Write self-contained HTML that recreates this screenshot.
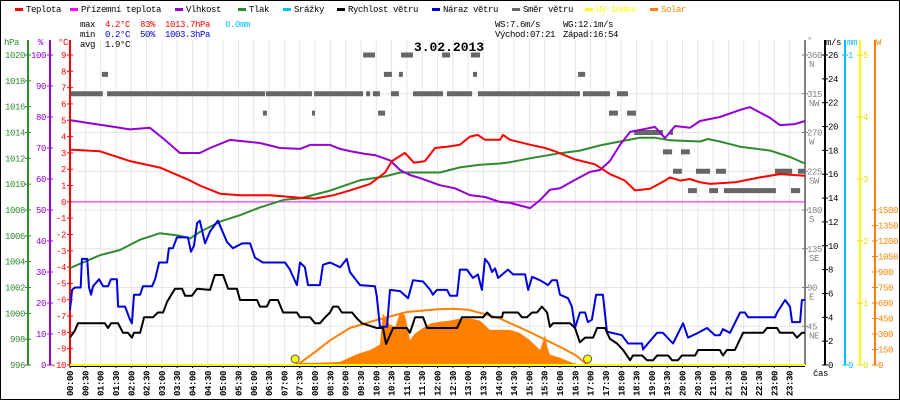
<!DOCTYPE html>
<html><head><meta charset="utf-8"><style>
html,body{margin:0;padding:0;background:#fff;}
svg{display:block;font-family:"Liberation Mono",monospace;font-size:9px;letter-spacing:-0.4px;}
</style></head><body>
<svg id="chart" width="900" height="400" viewBox="0 0 900 400" xmlns="http://www.w3.org/2000/svg">
<rect x="0.5" y="0.5" width="899" height="399" fill="#fff" stroke="#000"/>
<g id="grid"></g>
<g id="axes"></g>
<g id="series"></g>
<g id="legend"></g>
<g>
<text x="80" y="27">max</text>
<text x="105" y="27" fill="#f00">4.2°C</text>
<text x="140" y="27" fill="#f00">83%</text>
<text x="165" y="27" fill="#f00">1013.7hPa</text>
<text x="225" y="27" fill="#00bfff">0.0mm</text>
<text x="80" y="37">min</text>
<text x="105" y="37" fill="#0000dd">0.2°C</text>
<text x="140" y="37" fill="#0000dd">50%</text>
<text x="165" y="37" fill="#0000dd">1003.3hPa</text>
<text x="80" y="47">avg</text>
<text x="105" y="47">1.9°C</text>
<text x="495" y="27">WS:7.6m/s</text>
<text x="563" y="27">WG:12.1m/s</text>
<text x="495" y="37">Východ:07:21</text>
<text x="563" y="37">Západ:16:54</text>
<text x="449" y="51" text-anchor="middle" font-size="13" font-weight="bold" style="letter-spacing:0">3.02.2013</text>
</g>
</svg>
<script>
// ---- data ----
const tempT=[0,0.98,1.96,2.94,3.92,4.24,4.9,5.55,6.53,7.51,8.0,8.59,9.14,9.8,10.29,10.51,10.94,11.23,11.59,11.92,12.41,12.73,13.06,13.32,13.55,14.04,14.14,14.37,15.02,15.51,15.84,16.49,17.14,17.63,18.12,18.45,18.94,19.43,19.59,19.92,20.24,20.57,20.9,21.71,22.53,23.18,24];
const tempV=[3.2,3.1,2.5,2.1,1.3,1.0,0.5,0.4,0.4,0.25,0.2,0.4,0.7,1.1,1.8,2.5,3.0,2.4,2.5,3.3,3.4,3.5,4.0,4.1,3.8,3.8,4.1,3.8,3.5,3.3,3.1,2.6,2.3,1.7,1.3,0.7,0.8,1.3,1.5,1.3,1.4,1.2,1.1,1.2,1.5,1.7,1.6];
const humT=[0,0.65,1.31,1.96,2.61,3.1,3.59,4.24,4.57,5.22,6.2,6.86,7.51,7.84,8.49,8.82,9.14,9.63,9.96,10.45,10.78,11.1,11.43,12.08,12.57,13.06,13.55,14.04,14.37,15.02,15.35,15.67,16.0,16.49,16.98,17.31,17.63,17.96,18.29,18.61,19.1,19.43,19.76,20.24,20.57,21.22,21.88,22.2,22.86,23.18,23.67,24];
const humV=[79,78,77,76,76.5,72.6,68.4,68.4,70,72.6,71.6,70,69.7,71,71,69.7,69,68.1,67.7,66,62.9,61.3,60.3,58,57,54.8,54.2,52.6,52.3,50.6,53.2,56.5,57,59.7,62.3,62.9,65.8,71,75.2,75.8,76.8,73.2,77.1,76.5,78.7,80,82.3,83.2,79.7,77.4,77.7,78.7];
const presT=[0,0.98,1.63,2.29,2.94,3.59,3.92,4.24,4.9,5.55,6.2,7.0,7.51,8.49,9.47,10.29,10.78,11.43,12.08,12.73,13.39,14.04,14.37,15.02,16.0,16.65,17.31,17.96,18.61,19.1,19.59,20.57,20.83,21.22,21.88,22.86,23.51,24];
const presV=[1003.5,1004.5,1004.9,1005.7,1006.2,1006.0,1005.8,1006.3,1007.1,1007.6,1008.2,1008.8,1008.9,1009.5,1010.3,1010.6,1010.9,1010.9,1010.9,1011.3,1011.5,1011.6,1011.7,1012.0,1012.4,1012.6,1013.0,1013.3,1013.6,1013.6,1013.4,1013.3,1013.5,1013.3,1012.9,1012.6,1012.1,1011.6];
const windT=[0,0.16,0.26,1.14,1.24,1.34,1.57,1.73,1.89,2.02,2.09,2.29,2.42,2.71,2.87,3.04,3.17,3.43,3.66,3.76,3.98,4.15,4.57,4.73,5.0,5.16,5.45,5.55,6.11,6.2,6.43,6.53,6.79,6.96,7.41,7.51,7.84,8.0,8.16,8.33,8.49,8.59,8.75,8.88,9.21,9.37,9.53,10.02,10.22,10.32,10.45,10.55,11.0,11.1,11.27,11.53,11.66,12.64,12.8,13.49,13.62,13.78,14.11,14.14,14.63,14.76,14.92,15.09,15.25,15.41,15.58,15.67,15.77,16.33,16.49,16.65,16.82,17.08,17.21,17.47,17.63,17.86,18.06,18.29,18.38,18.68,18.84,19.04,19.17,19.53,19.66,19.85,19.98,20.41,20.51,21.22,21.32,21.45,21.71,21.98,22.63,22.76,23.09,23.18,23.61,23.74,23.9,24];
const windV=[2.3,2.9,3.5,3.5,3.1,3.5,3.5,2.7,2.7,2.3,2.7,2.7,4.0,4.0,4.4,4.4,5.3,6.4,6.4,5.8,5.8,6.4,6.3,7.55,7.55,6.4,6.4,5.45,5.45,4.9,4.9,5.45,5.45,4.4,4.4,4.0,4.0,3.5,3.5,4.0,4.4,4.9,4.9,4.4,4.4,3.9,3.5,3.1,3.1,1.76,2.5,3.1,3.1,2.7,4.0,4.0,3.1,3.1,4.0,4.0,4.4,4.0,4.0,4.4,4.4,4.0,4.0,4.4,4.4,4.9,4.4,3.2,3.5,3.5,3.1,1.9,2.3,2.3,3.1,3.1,2.2,1.8,1.26,0.4,0.8,0.8,0.4,0.4,0.8,0.8,0.4,0.4,0.8,0.8,1.26,1.26,0.8,1.26,1.26,2.7,2.7,3.1,3.1,2.7,2.7,2.3,2.7,2.7];
const gustT=[0,0.07,0.16,0.35,0.39,0.56,0.62,0.69,0.75,0.95,1.08,1.24,1.34,1.53,1.57,1.80,1.96,2.02,2.09,2.29,2.38,2.68,2.78,2.91,3.17,3.23,3.36,3.49,3.85,3.95,4.05,4.15,4.24,4.41,4.57,4.83,5.13,5.32,5.62,5.88,6.04,6.30,7.02,7.18,7.41,7.51,7.67,7.77,8.16,8.26,8.49,8.82,9.04,9.14,9.47,9.96,10.02,10.12,10.35,10.45,10.78,11.04,11.2,11.53,11.76,11.85,11.98,12.31,12.41,12.64,12.73,12.96,13.16,13.32,13.45,13.55,13.68,13.78,13.88,13.98,14.3,14.47,14.86,14.96,15.09,15.35,15.61,15.74,15.9,16.0,16.26,16.39,16.49,16.65,16.82,16.91,17.04,17.18,17.4,17.53,18.02,18.22,18.68,18.71,18.87,19.17,19.36,19.69,20.02,20.18,20.51,20.8,21.06,21.22,21.32,21.55,21.88,22.04,22.14,23.02,23.09,23.35,23.51,23.58,23.84,23.9,24];
const gustV=[4.6,6.3,6.5,6.5,8.9,8.9,6.5,5.9,6.6,7.2,6.6,6.6,7.2,7.2,4.9,4.9,3.8,3.5,5.9,5.9,6.6,6.6,7.2,8.6,8.6,9.8,9.8,10.7,10.7,9.5,10.0,11.9,12.1,10.2,11.2,12.1,10.3,9.8,10.2,10.2,9.0,8.6,8.6,8.0,6.7,8.6,8.2,6.7,6.7,8.4,8.6,8.2,8.9,7.8,6.7,6.6,5.7,3.2,3.2,6.3,6.2,5.6,7.1,7.0,6.3,5.9,6.3,6.3,5.8,5.8,8.0,8.0,7.3,7.6,6.3,8.9,8.5,7.8,8.1,7.3,8.0,7.6,7.6,6.3,7.4,7.1,6.7,7.1,7.1,5.9,5.6,4.9,3.1,4.4,4.4,3.6,3.8,5.9,5.9,2.8,2.5,1.8,1.8,1.3,1.8,2.7,2.7,1.8,3.5,2.3,2.7,3.1,2.5,2.5,3.0,2.7,4.4,4.4,4.0,4.0,4.4,5.45,4.9,3.6,3.6,5.45,5.45];
const solarT=[7.35,7.51,8.0,8.82,9.14,9.47,9.8,9.99,10.12,10.22,10.45,10.62,10.78,10.94,11.1,11.25,11.43,11.76,12.1,12.41,12.73,13.06,13.39,13.71,14.04,14.37,14.69,15.02,15.35,15.51,15.6,15.67,16.0,16.33,16.65];
const solarV=[0,20,20,30,75,115,145,175,200,500,390,370,510,480,240,300,340,400,420,430,450,450,430,340,340,340,310,240,145,290,160,100,70,30,0];
const clearT=[7.35,7.51,8.0,8.5,9.14,10,11,12,12.5,13,14,15,16,16.5,16.9];
const clearV=[0,20,125,240,358,435,513,540,545,535,455,320,175,97,0];
const dirStart=[0.02,1.21,6.40,7.97,9.67,9.89,10.48,11.20,12.31,13.32,16.75,17.86, 9.57,10.81,12.15,13.09, 1.04,10.25,10.74,13.16,16.59, 6.30,7.90,10.06,17.60,18.19, 18.42,19.59, 19.36,19.95, 19.69,20.44,21.09,23.02,23.77, 20.18,20.87,21.35,23.54];
const dirEnd=[1.07,6.37,7.90,9.57,9.80,10.12,10.74,12.18,13.13,16.65,17.63,18.22, 9.96,11.20,12.41,13.39, 1.24,10.51,10.87,13.29,16.82, 6.43,8.00,10.29,17.89,18.48, 19.36,19.69, 19.66,20.24, 19.98,20.90,21.42,23.58,24.0, 20.47,21.16,23.05,23.84];
const dirDeg=[315,315,315,315,315,315,315,315,315,315,315,315, 360,360,360,360, 337.5,337.5,337.5,337.5,337.5, 292.5,292.5,292.5,292.5,292.5, 270,270, 247.5,247.5, 225,225,225,225,225, 202.5,202.5,202.5,202.5];
const sunEvents=[7.35,16.9];
const hPaTicks=[1020,1018,1016,1014,1012,1010,1008,1006,1004,1002,1000,998,996];
const humTicks=[100,90,80,70,60,50,40,30,20,10,0];
const tempTicks=[9,8,7,6,5,4,3,2,1,0,-1,-2,-3,-4,-5,-6,-7,-8,-9,-10];
const dirTicks=[360,315,270,225,180,135,90,45];
const dirNames=["N","NW","W","SW","S","SE","E","NE"];
const msTicks=[26,24,22,20,18,16,14,12,10,8,6,4,2,0];
const uvTicks=[5,4,3,2,1,0];
const solarTicks=[1500,1350,1200,1050,900,750,600,450,300,150,0];
const legendNames=["Teplota","Přízemní teplota","Vlhkost","Tlak","Srážky","Rychlost větru","Náraz větru","Směr větru","UV index","Solar"];
const legendColors=["#f00","#f0f","#9400d3","#2e8b2e","#00bfff","#000","#0000dd","#666","#ffff00","#ff8000"];
const legendX=[15,70,175,238,283,337,432,512,585,650];

// ---- scales ----
const TOP=55,BOT=365,L=70,R=805;
const X=t=>L+t*(R-L)/24;
const yT=c=>BOT-(c+10)*(BOT-TOP)/19;
const yH=p=>BOT-(p-996)*(BOT-TOP)/24;
const yP=h=>BOT-h*(BOT-TOP)/100;
const yW=v=>BOT-v*(BOT-TOP)/26;
const yD=d=>BOT-d*(BOT-TOP)/360;
const yS=w=>BOT-w*155/1500;
const yU=u=>BOT-u*(BOT-TOP)/5;
const NS="http://www.w3.org/2000/svg";
function mk(tag,attrs,parent,txt){const e=document.createElementNS(NS,tag);for(const k in attrs)e.setAttribute(k,attrs[k]);if(txt!==undefined)e.textContent=txt;parent.appendChild(e);return e;}
const grid=document.getElementById('grid'),axes=document.getElementById('axes'),series=document.getElementById('series'),legend=document.getElementById('legend');

// grid
for(let i=0;i<=48;i++){const x=X(i/2);const g=mk('line',{x1:x,y1:40,x2:x,y2:BOT,stroke:'#e8e4e4'},grid);

}
for(let i=0;i<8;i++){const y=yD(i*45);const g=mk('line',{x1:L,y1:y,x2:R,y2:y,stroke:'#e8e4e4'},grid);

}
const zl=mk('line',{x1:L,y1:yT(0),x2:R,y2:yT(0),stroke:'#f0f'},grid);



// left axes
function vaxis(x,color,name){const a=mk('line',{x1:x,y1:40,x2:x,y2:BOT,stroke:color,'stroke-width':2},axes);

}
vaxis(28,'#2e8b2e','pressure-axis');vaxis(50,'#9400d3','humidity-axis');vaxis(70,'#f00','temperature-axis');
vaxis(R,'#808080','direction-axis');vaxis(825,'#000','wind-axis');vaxis(845,'#00bfff','rain-axis');vaxis(860,'#ffff00','uv-axis');vaxis(875,'#ff8000','solar-axis');
function tick(x,y,color){mk('line',{x1:x-3,y1:y,x2:x+3,y2:y,stroke:color},axes);}
function lab(x,y,txt,color,anchor,name){const t=mk('text',{x:x,y:y+3,fill:color,'text-anchor':anchor},axes,txt);

}
hPaTicks.forEach(p=>{tick(28,yH(p),'#2e8b2e');lab(25,yH(p),String(p),'#2e8b2e','end','pressure-tick-label');});
humTicks.forEach(h=>{tick(50,yP(h),'#9400d3');lab(46,yP(h),String(h),'#9400d3','end','humidity-tick-label');});
tempTicks.forEach(c=>{tick(70,yT(c),'#f00');lab(66,yT(c),String(c),'#f00','end','temperature-tick-label');});
dirTicks.forEach((d,i)=>{tick(R,yD(d),'#808080');lab(807,yD(d),String(d),'#808080','start','direction-tick-label');lab(809,yD(d)+9,dirNames[i],'#808080','start','direction-name-label');});
msTicks.forEach(v=>{tick(825,yW(v),'#000');lab(828,yW(v),String(v),'#000','start','wind-tick-label');});
[[1,55],[0,BOT]].forEach(a=>{tick(845,a[1],'#00bfff');lab(848,a[1],String(a[0]),'#00bfff','start','rain-tick-label');});
uvTicks.forEach(u=>{tick(860,yU(u),'#e0e000');lab(863,yU(u),String(u),'#e0e000','start','uv-tick-label');});
solarTicks.forEach(w=>{tick(875,yS(w),'#ff8000');lab(878,yS(w),String(w),'#ff8000','start','solar-tick-label');});
lab(4,42,'hPa','#2e8b2e','start','pressure-unit');lab(38,42,'%','#9400d3','start','humidity-unit');lab(58,42,'°C','#f00','start','temperature-unit');
lab(807,40,'°','#808080','start','direction-unit');lab(826,42,'m/s','#000','start','wind-unit');lab(847,42,'mm','#00bfff','start','rain-unit');lab(876,42,'W','#ff8000','start','solar-unit');
lab(813,373,'čas','#000','start','x-axis-title');
// x labels
for(let i=0;i<48;i++){const x=X(i/2);mk('line',{x1:x,y1:BOT,x2:x,y2:BOT+3,stroke:'#000'},axes);
const h=Math.floor(i/2),m=i%2?'30':'00';const s=(h<10?'0':'')+h+':'+m;
const t=mk('text',{x:0,y:0,transform:`translate(${x+3},396) rotate(-90)`,'font-weight':'bold'},axes,s);

}

// solar area
let d='M'+X(solarT[0])+' '+BOT;solarT.forEach((t,i)=>{d+=' L'+X(t)+' '+yS(solarV[i]);});d+=' L'+X(solarT[solarT.length-1])+' '+BOT+' Z';
const sa=mk('path',{d:d,fill:'#ff8000'},series);


function line(T,V,f,color,w,name){let p='';T.forEach((t,i)=>{p+=(i?' L':'M')+X(t).toFixed(1)+' '+f(V[i]).toFixed(1);});
const e=mk('path',{d:p,fill:'none',stroke:color,'stroke-width':w,'stroke-linejoin':'round'},series);

}
line(clearT,clearV,yS,'#ff8000',2,'solar-clear-sky-line');
// direction markers
dirDeg.forEach((g,i)=>{const r=mk('rect',{x:X(dirStart[i]),y:yD(g)-2.5,width:Math.max(2,X(dirEnd[i])-X(dirStart[i])),height:5,fill:'#666'},series);

});
line(presT,presV,yH,'#2e8b2e',2,'pressure-line');
line(humT,humV,yP,'#9400d3',2,'humidity-line');
line(tempT,tempV,yT,'#f00',2,'temperature-line');
line(gustT,gustV,yW,'#0000dd',2,'gust-line');
line(windT,windV,yW,'#000',2,'wind-speed-line');
const uv=mk('line',{x1:L,y1:BOT,x2:R,y2:BOT,stroke:'#ffff00','stroke-width':2},series);


mk('line',{x1:L,y1:BOT+1.5,x2:R,y2:BOT+1.5,stroke:'#000','stroke-width':1},series);
sunEvents.forEach(t=>{const c=mk('circle',{cx:X(t),cy:BOT-6,r:4,fill:'#ffff00',stroke:'#555'},series);

});

// legend
legendNames.forEach((n,i)=>{const g=mk('g',{},legend);


mk('rect',{x:legendX[i],y:8,width:8,height:3,fill:legendColors[i]},g);
mk('text',{x:legendX[i]+11,y:12,fill:(i>=8?legendColors[i]:'#000')},g,n);});
</script>
</body></html>
